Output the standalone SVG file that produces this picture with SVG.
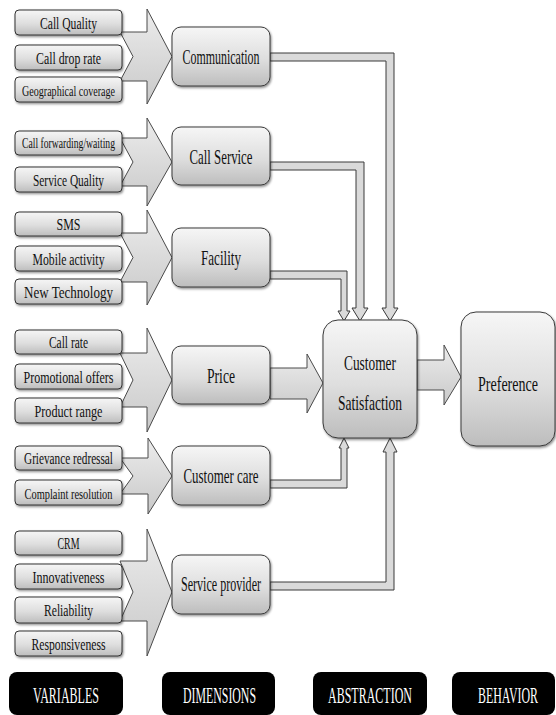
<svg xmlns="http://www.w3.org/2000/svg" width="556" height="715" viewBox="0 0 556 715">
<defs>
<linearGradient id="gBox" x1="0" y1="0" x2="0" y2="1">
<stop offset="0" stop-color="#f6f6f6"/>
<stop offset="0.55" stop-color="#dedede"/>
<stop offset="1" stop-color="#bdbdbd"/>
</linearGradient>
<linearGradient id="gArrow" x1="0" y1="0" x2="0" y2="1">
<stop offset="0" stop-color="#ececec"/>
<stop offset="1" stop-color="#c9c9c9"/>
</linearGradient>
<filter id="sh" x="-10%" y="-10%" width="125%" height="130%">
<feDropShadow dx="1" dy="1.5" stdDeviation="1" flood-color="#000" flood-opacity="0.45"/>
</filter>
</defs>
<style>
.var rect{fill:url(#gBox);stroke:#333;stroke-width:1;filter:url(#sh)}
.dim rect{fill:url(#gBox);stroke:#3a3a3a;stroke-width:1;filter:url(#sh)}
.big{fill:url(#gArrow);stroke:#4a4a4a;stroke-width:1}
.bar{fill:#dadada;stroke:#3a3a3a;stroke-width:1;stroke-linejoin:miter}
text{font-family:"Liberation Serif","DejaVu Serif",serif;fill:#111;text-anchor:middle}
.vt{font-size:16.5px}
.vs{font-size:14px}
.dt{font-size:20px}
.lab rect{fill:#000}
.lab text{fill:#fff;font-size:24px}
</style>

<!-- block arrows (behind variable boxes) -->
<g id="blockArrows">
<path class="big" d="M120,32 H147 V9 L172,56.5 L147,104 V81 H120 L133,56.5 Z"/>
<path class="big" d="M120,138 H147 V118 L172,162 L147,206 V186 H120 L133,162 Z"/>
<path class="big" d="M120,233 H147 V210 L172,257.5 L147,305 V282 H120 L133,257.5 Z"/>
<path class="big" d="M120,353 H147 V328 L172,380 L147,432 V407 H120 L133,380 Z"/>
<path class="big" d="M120,458 H148 V438 L172,476 L148,514 V494 H120 L133,476 Z"/>
<path class="big" d="M120,561 H147 V529 L172,592 L147,656 V621 H120 L133,592 Z"/>
<path class="big" d="M270,368 H307 V354 L323,383 L307,413 V399 H270 Z"/>
<path class="big" d="M417,360 H444 V345 L461,377 L444,405 V390 H417 Z"/>
</g>

<!-- connectors -->
<g id="connectors">
<path class="bar" d="M270,53 H394 V308 H398 L390,321 L382,308 H386 V61 H270 Z"/>
<path class="bar" d="M270,162 H364 V308 H368 L360,321 L352,308 H356 V170 H270 Z"/>
<path class="bar" d="M270,271 H347 V311 H350 L344,321 L338,311 H341 V279 H270 Z"/>
<path class="bar" d="M270,480 H341 V448 H339 L344,438 L349,448 H347 V488 H270 Z"/>
<path class="bar" d="M270,582 H386 V452 H383 L390,438 L397,452 H394 V590 H270 Z"/>
</g>

<!-- variables -->
<g id="v-call-quality" class="var"><rect x="15" y="10" width="107" height="25" rx="4"/><text class="vt" transform="translate(68.5,28.5) scale(0.72,1)" textLength="79.2" lengthAdjust="spacingAndGlyphs">Call Quality</text></g>
<g id="v-call-drop-rate" class="var"><rect x="15" y="45" width="107" height="25" rx="4"/><text class="vt" transform="translate(68.5,63.5) scale(0.72,1)" textLength="90.3" lengthAdjust="spacingAndGlyphs">Call drop rate</text></g>
<g id="v-geo" class="var"><rect x="15" y="77" width="107" height="25" rx="4"/><text class="vs" transform="translate(68.5,95.5) scale(0.72,1)" textLength="129.2" lengthAdjust="spacingAndGlyphs">Geographical coverage</text></g>
<g id="v-call-forwarding" class="var"><rect x="15" y="131" width="107" height="24" rx="4"/><text class="vs" transform="translate(68.5,148) scale(0.72,1)" textLength="129.2" lengthAdjust="spacingAndGlyphs">Call forwarding/waiting</text></g>
<g id="v-service-quality" class="var"><rect x="15" y="167" width="107" height="25" rx="4"/><text class="vt" transform="translate(68.5,185.5) scale(0.72,1)" textLength="98.6" lengthAdjust="spacingAndGlyphs">Service Quality</text></g>
<g id="v-sms" class="var"><rect x="15" y="212" width="107" height="24" rx="4"/><text class="vt" transform="translate(68.5,230) scale(0.72,1)" textLength="33.3" lengthAdjust="spacingAndGlyphs">SMS</text></g>
<g id="v-mobile-activity" class="var"><rect x="15" y="246" width="107" height="25" rx="4"/><text class="vt" transform="translate(68.5,264.5) scale(0.72,1)" textLength="100" lengthAdjust="spacingAndGlyphs">Mobile activity</text></g>
<g id="v-new-technology" class="var"><rect x="15" y="279" width="107" height="25" rx="4"/><text class="vt" transform="translate(68.5,297.5) scale(0.72,1)" textLength="123.6" lengthAdjust="spacingAndGlyphs">New Technology</text></g>
<g id="v-call-rate" class="var"><rect x="15" y="330" width="107" height="24" rx="4"/><text class="vt" transform="translate(68.5,348) scale(0.72,1)" textLength="54.2" lengthAdjust="spacingAndGlyphs">Call rate</text></g>
<g id="v-promotional" class="var"><rect x="15" y="364" width="107" height="25" rx="4"/><text class="vt" transform="translate(68.5,382.5) scale(0.72,1)" textLength="125" lengthAdjust="spacingAndGlyphs">Promotional offers</text></g>
<g id="v-product-range" class="var"><rect x="15" y="398" width="107" height="25" rx="4"/><text class="vt" transform="translate(68.5,416.5) scale(0.72,1)" textLength="94.4" lengthAdjust="spacingAndGlyphs">Product range</text></g>
<g id="v-grievance" class="var"><rect x="15" y="446" width="107" height="24" rx="4"/><text class="vt" transform="translate(68.5,464) scale(0.72,1)" textLength="123.6" lengthAdjust="spacingAndGlyphs">Grievance redressal</text></g>
<g id="v-complaint" class="var"><rect x="15" y="480" width="107" height="25" rx="4"/><text class="vs" transform="translate(68.5,498.5) scale(0.72,1)" textLength="122.2" lengthAdjust="spacingAndGlyphs">Complaint resolution</text></g>
<g id="v-crm" class="var"><rect x="15" y="531" width="107" height="24" rx="4"/><text class="vt" transform="translate(68.5,549) scale(0.72,1)" textLength="30.6" lengthAdjust="spacingAndGlyphs">CRM</text></g>
<g id="v-innovativeness" class="var"><rect x="15" y="564" width="107" height="25" rx="4"/><text class="vt" transform="translate(68.5,582.5) scale(0.72,1)" textLength="100" lengthAdjust="spacingAndGlyphs">Innovativeness</text></g>
<g id="v-reliability" class="var"><rect x="15" y="597" width="107" height="26" rx="4"/><text class="vt" transform="translate(68.5,616) scale(0.72,1)" textLength="68.1" lengthAdjust="spacingAndGlyphs">Reliability</text></g>
<g id="v-responsiveness" class="var"><rect x="15" y="631" width="107" height="25" rx="4"/><text class="vt" transform="translate(68.5,649.5) scale(0.72,1)" textLength="102.8" lengthAdjust="spacingAndGlyphs">Responsiveness</text></g>

<!-- dimensions -->
<g id="d-communication" class="dim"><rect x="172" y="27" width="98" height="59" rx="9"/><text class="dt" transform="translate(221,64) scale(0.65,1)" textLength="118.5" lengthAdjust="spacingAndGlyphs">Communication</text></g>
<g id="d-call-service" class="dim"><rect x="172" y="127" width="98" height="58" rx="9"/><text class="dt" transform="translate(221,164) scale(0.65,1)" textLength="96.9" lengthAdjust="spacingAndGlyphs">Call Service</text></g>
<g id="d-facility" class="dim"><rect x="172" y="228" width="98" height="59" rx="9"/><text class="dt" transform="translate(221,265) scale(0.65,1)" textLength="61.5" lengthAdjust="spacingAndGlyphs">Facility</text></g>
<g id="d-price" class="dim"><rect x="172" y="346" width="98" height="58" rx="9"/><text class="dt" transform="translate(221,383) scale(0.65,1)" textLength="43.1" lengthAdjust="spacingAndGlyphs">Price</text></g>
<g id="d-customer-care" class="dim"><rect x="172" y="446" width="98" height="59" rx="9"/><text class="dt" transform="translate(221,483) scale(0.65,1)" textLength="115.4" lengthAdjust="spacingAndGlyphs">Customer care</text></g>
<g id="d-service-provider" class="dim"><rect x="172" y="555" width="98" height="59" rx="9"/><text class="dt" transform="translate(221,591) scale(0.65,1)" textLength="123.1" lengthAdjust="spacingAndGlyphs">Service provider</text></g>

<!-- abstraction / behavior -->
<g id="customer-satisfaction" class="dim"><rect x="323" y="320" width="94" height="118" rx="15"/><text class="dt" transform="translate(370,370) scale(0.65,1)" textLength="80" lengthAdjust="spacingAndGlyphs">Customer</text><text class="dt" transform="translate(370,410) scale(0.65,1)" textLength="98.5" lengthAdjust="spacingAndGlyphs">Satisfaction</text></g>
<g id="preference" class="dim"><rect x="461" y="312" width="94" height="134" rx="15"/><text class="dt" transform="translate(508,391) scale(0.65,1)" textLength="92.3" lengthAdjust="spacingAndGlyphs">Preference</text></g>

<!-- bottom labels -->
<g id="label-variables" class="lab"><rect x="9" y="672" width="114" height="43" rx="8"/><text transform="translate(66,703) scale(0.5,1)" textLength="132" lengthAdjust="spacingAndGlyphs">VARIABLES</text></g>
<g id="label-dimensions" class="lab"><rect x="162" y="672" width="113" height="43" rx="8"/><text transform="translate(219.5,703) scale(0.5,1)" textLength="146" lengthAdjust="spacingAndGlyphs">DIMENSIONS</text></g>
<g id="label-abstraction" class="lab"><rect x="313" y="672" width="114" height="43" rx="8"/><text transform="translate(370,703) scale(0.5,1)" textLength="168" lengthAdjust="spacingAndGlyphs">ABSTRACTION</text></g>
<g id="label-behavior" class="lab"><rect x="452" y="672" width="103" height="43" rx="8"/><text transform="translate(508,703) scale(0.5,1)" textLength="120" lengthAdjust="spacingAndGlyphs">BEHAVIOR</text></g>
</svg>
